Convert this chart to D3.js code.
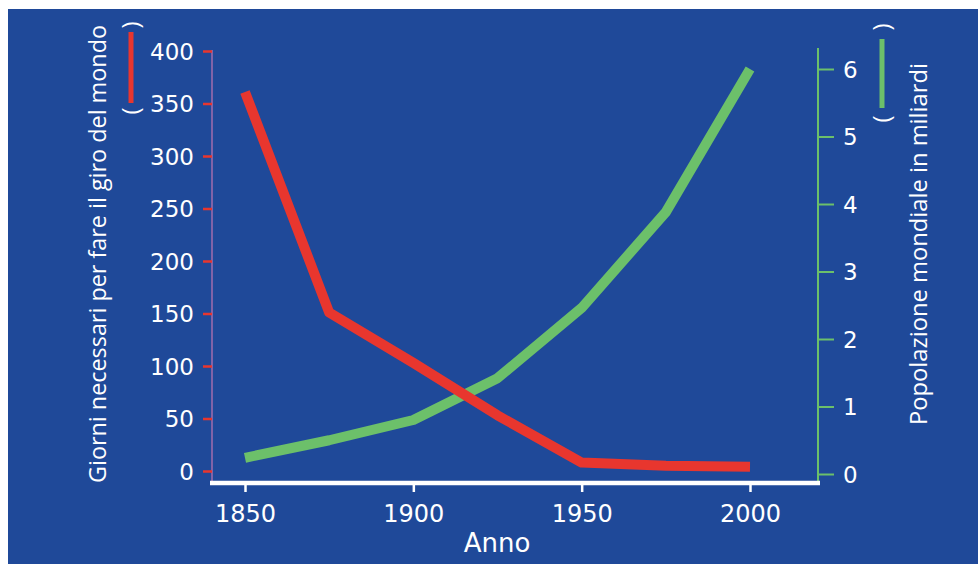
<!DOCTYPE html>
<html><head><meta charset="utf-8">
<script src="https://cdn.jsdelivr.net/npm/d3@7"></script>
<style>
html,body{margin:0;padding:0;background:#fff;}
svg{display:block;}
</style></head>
<body>
<script>
const years = [1850, 1875, 1900, 1925, 1950, 1975, 2000];
const giorni = [361, 151, 103, 53, 8, 5, 4];
const popolazione = [0.24, 0.5, 0.8, 1.42, 2.46, 3.88, 6.0];
const xTicks = [1850, 1900, 1950, 2000];
const leftTicks = [0, 50, 100, 150, 200, 250, 300, 350, 400];
const rightTicks = [0, 1, 2, 3, 4, 5, 6];
const leftTitle = "Giorni necessari per fare il giro del mondo";
const rightTitle = "Popolazione mondiale in miliardi";
const xTitle = "Anno";

const W = 978, H = 564;
const bg = "#1f4999", red = "#e8362e", green = "#6cc06a";
const svg = d3.select("body").append("svg").attr("width", W).attr("height", H);
svg.append("rect").attr("x", 8).attr("y", 9).attr("width", W - 8).attr("height", H - 9).attr("fill", bg);

const x = d3.scaleLinear().domain([1850, 2000]).range([245, 750]);
const yL = d3.scaleLinear().domain([0, 400]).range([471, 51]);
const yR = d3.scaleLinear().domain([0, 6]).range([474, 69]);

const tickFont = "'DejaVu Sans', Verdana, sans-serif";
const titleFont = "'Open Sans', 'Noto Sans', sans-serif";

// left axis
const gL = svg.append("g").attr("transform", "translate(212,0)")
  .call(d3.axisLeft(yL).tickValues(leftTicks).tickSize(9).tickPadding(9));
gL.select(".domain").attr("stroke", "#a26cae").attr("stroke-width", 1.5).attr("d", `M0,${yL(400) - 1}V483`);
gL.selectAll(".tick line").attr("stroke", red).attr("stroke-width", 2.5);
gL.selectAll(".tick text").attr("fill", "#fff").attr("font-family", tickFont).attr("font-size", 23).attr("dy", "0.36em");

// right axis
const gR = svg.append("g").attr("transform", "translate(818,0)")
  .call(d3.axisRight(yR).tickValues(rightTicks).tickSize(16).tickPadding(9).tickFormat(d3.format("d")));
gR.select(".domain").attr("stroke", green).attr("stroke-width", 2).attr("d", `M0,48V485`);
gR.selectAll(".tick line").attr("stroke", green).attr("stroke-width", 2);
gR.selectAll(".tick text").attr("fill", "#fff").attr("font-family", tickFont).attr("font-size", 23).attr("dy", "0.36em");

// bottom axis
const gB = svg.append("g").attr("transform", "translate(0,483)")
  .call(d3.axisBottom(x).tickValues(xTicks).tickSize(9).tickPadding(13).tickFormat(d3.format("d")));
gB.select(".domain").attr("stroke", "#fff").attr("stroke-width", 4.5).attr("d", "M210,0H820");
gB.selectAll(".tick line").attr("stroke", "#fff").attr("stroke-width", 2.5);
gB.selectAll(".tick text").attr("fill", "#fff").attr("font-family", tickFont).attr("font-size", 24);

svg.append("text").attr("x", 497).attr("y", 552).attr("text-anchor", "middle")
  .attr("fill", "#fff").attr("font-family", tickFont).attr("font-size", 26).text(xTitle);

// lines
const lineL = d3.line().x((d, i) => x(years[i])).y(d => yL(d));
const lineR = d3.line().x((d, i) => x(years[i])).y(d => yR(d));
svg.append("path").datum(popolazione).attr("d", lineR).attr("fill", "none")
  .attr("stroke", green).attr("stroke-width", 10).attr("stroke-linejoin", "round");
svg.append("path").datum(giorni).attr("d", lineL).attr("fill", "none")
  .attr("stroke", red).attr("stroke-width", 10).attr("stroke-linejoin", "round");

// titles
svg.append("text").attr("transform", "translate(106,483) rotate(-90)")
  .attr("fill", "#fff").attr("font-family", titleFont).attr("font-size", 24)
  .attr("textLength", 458).attr("lengthAdjust", "spacingAndGlyphs").text(leftTitle);
svg.append("text").attr("transform", "translate(927,425) rotate(-90)")
  .attr("fill", "#fff").attr("font-family", titleFont).attr("font-size", 24)
  .attr("textLength", 362).attr("lengthAdjust", "spacingAndGlyphs").text(rightTitle);

// legend keys
function key(cx, y0, y1, yTop, yBot, col) {
  svg.append("line").attr("x1", cx).attr("x2", cx).attr("y1", y0).attr("y2", y1)
    .attr("stroke", col).attr("stroke-width", 5);
  svg.append("text").attr("transform", `translate(${cx + 8},${yBot}) rotate(-90)`)
    .attr("text-anchor", "middle").attr("fill", "#fff").attr("font-family", titleFont).attr("font-size", 24).text("(");
  svg.append("text").attr("transform", `translate(${cx + 8},${yTop}) rotate(-90)`)
    .attr("text-anchor", "middle").attr("fill", "#fff").attr("font-family", titleFont).attr("font-size", 24).text(")");
}
key(131, 32, 103, 25, 111, red);
key(882, 39, 108, 27, 119, green);
</script>
</body></html>
